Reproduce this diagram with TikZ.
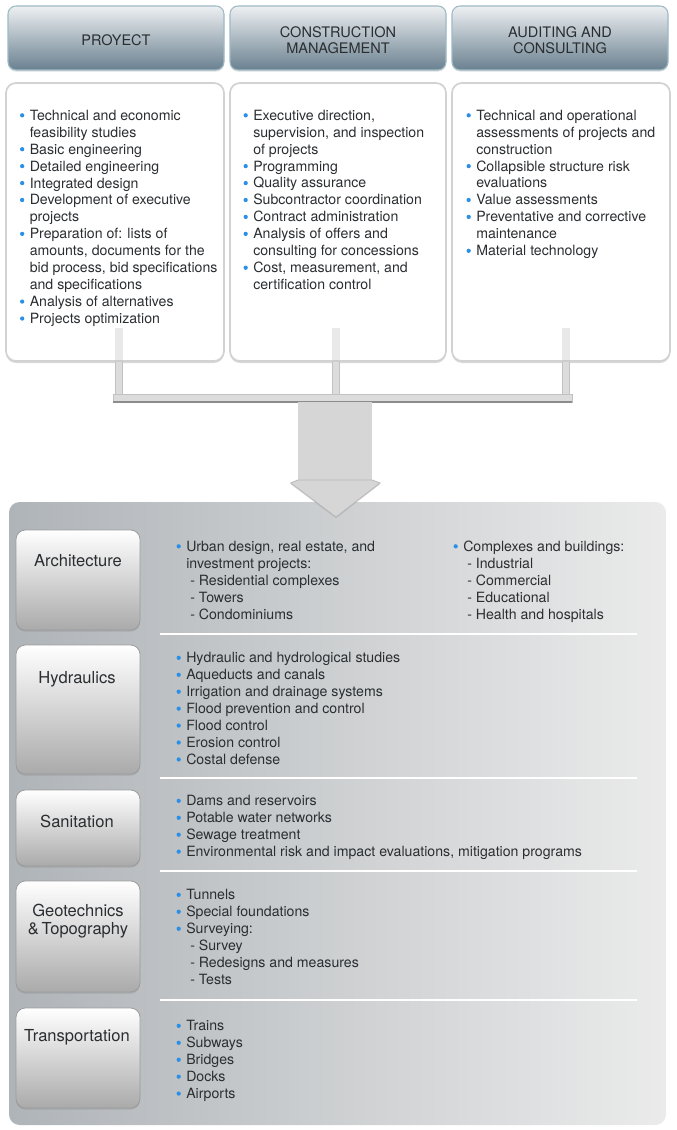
\documentclass[tikz,border=0pt]{standalone}
\usepackage{fontspec}
\setmainfont{TeX Gyre Heros}
\usetikzlibrary{fit,shadows}
\definecolor{bblue}{HTML}{2A8FE6}
\definecolor{txt}{HTML}{2B2E31}
\definecolor{hdrtop}{HTML}{EEF0F2}
\definecolor{hdrbot}{HTML}{6A8190}
\definecolor{hdrline}{HTML}{9DBAC6}
\definecolor{boxline}{HTML}{D2D2D2}
\definecolor{panelL}{HTML}{AFB4B8}
\definecolor{panelR}{HTML}{EBEBEB}
\definecolor{catbot}{HTML}{AAAAAA}
\definecolor{catline}{HTML}{9C9C9C}
\definecolor{connout}{HTML}{C2C2C2}
\definecolor{connin}{HTML}{DCDCDC}
\definecolor{arrowfill}{HTML}{D6D6D6}
\newcommand\itemfont{\fontsize{10.6pt}{12.7pt}\selectfont}
\newcommand\fs{\rule{0pt}{10pt}}
\newcommand\bu{\makebox[0pt][r]{\tikz[baseline=0pt]\fill[bblue] (0,3.7pt) circle (1.6pt);\hspace{4.1pt}}}
\newcommand\sub{\hspace{3pt}- }
\begin{document}
\begin{tikzpicture}[x=0.75pt,y=-0.75pt,
  hdr/.style={rounded corners=6pt, draw=hdrline, line width=0.8pt, top color=hdrtop, bottom color=hdrbot, inner sep=0pt,
    drop shadow={shadow xshift=0pt, shadow yshift=-1.2pt, opacity=0.25}},
  hdrtxt/.style={align=center, inner sep=0pt, text=txt, yshift=-1.5pt, font=\fontsize{10.9pt}{12pt}\selectfont},
  cbox/.style={rounded corners=7.5pt, draw=boxline, line width=1.3pt, fill=white, inner sep=0pt,
    drop shadow={shadow xshift=0pt, shadow yshift=-1.5pt, opacity=0.3}},
  item/.style={anchor=north west, yshift=10pt, align=left, inner sep=0pt, font=\itemfont, text=txt},
  panel/.style={rounded corners=8pt, left color=panelL, right color=panelR, inner sep=0pt},
  cat/.style={rounded corners=7pt, draw=catline, line width=0.6pt, top color=white, bottom color=catbot, inner sep=0pt,
    drop shadow={shadow xshift=0pt, shadow yshift=-1.2pt, opacity=0.3}},
  cattxt/.style={align=center, inner sep=0pt, text=txt, font=\fontsize{12.4pt}{13.5pt}\selectfont},
  sepline/.style={draw=white, line width=0.8pt},
  connA/.style={draw=connout, line width=6pt},
  connB/.style={draw=connin, line width=4.4pt}
]
\useasboundingbox (0,0) rectangle (677,1130);
\fill[white] (0,0) rectangle (677,1130);

% headers
\node[hdr, fit={(8,6) (224,70)}] (hA) {};
\node[hdr, fit={(230,6) (446,70)}] (hB) {};
\node[hdr, fit={(452,6) (668,70)}] (hC) {};
\node[hdrtxt] (tA) at (hA) {PROYECT};
\node[hdrtxt] (tB) at (hB) {CONSTRUCTION\\MANAGEMENT};
\node[hdrtxt] (tC) at (hC) {AUDITING AND\\CONSULTING};

% connector coordinates
\coordinate (jA) at (119,394);
\coordinate (jB) at (336,394);
\coordinate (jC) at (566,394);
\coordinate (uA) at (119,328);
\coordinate (uB) at (336,328);
\coordinate (uC) at (566,328);
\coordinate (hL) at (113,394);
\coordinate (hR) at (572,402);

% content boxes
\node[cbox, fit={(6,83) (224,361)}] (bA) {};
\node[cbox, fit={(230,83) (446,361)}] (bB) {};
\node[cbox, fit={(452,83) (670,361)}] (bC) {};

% faint connector parts inside boxes
\begin{scope}[opacity=0.35]
\draw[connA] (uA) -- (uA |- bA.south);
\draw[connA] (uB) -- (uB |- bB.south);
\draw[connA] (uC) -- (uC |- bC.south);
\end{scope}
% connectors below boxes
\draw[connA] (uA |- bA.south) -- (jA);
\draw[connA] (uB |- bB.south) -- (jB);
\draw[connA] (uC |- bC.south) -- (jC);
\draw[connB] (uA |- bA.south) -- (jA);
\draw[connB] (uB |- bB.south) -- (jB);
\draw[connB] (uC |- bC.south) -- (jC);
\fill[connin, draw=connout, line width=0.5pt] (hL) rectangle (hR);
\draw[draw=black!45, line width=0.9pt] (hL |- hR) -- (hR);

\node[item] (iA) at (29.5,120) {\fs\bu Technical and economic\\
feasibility studies\\
\bu Basic engineering\\
\bu Detailed engineering\\
\bu Integrated design\\
\bu Development of executive\\
projects\\
\bu Preparation of: lists of\\
amounts, documents for the\\
bid process, bid specifications\\
and specifications\\
\bu Analysis of alternatives\\
\bu Projects optimization};

\node[item] (iB) at (253,120) {\fs\bu Executive direction,\\
supervision, and inspection\\
of projects\\
\bu Programming\\
\bu Quality assurance\\
\bu Subcontractor coordination\\
\bu Contract administration\\
\bu Analysis of offers and\\
consulting for concessions\\
\bu Cost, measurement, and\\
certification control};

\node[item] (iC) at (476,120) {\fs\bu Technical and operational\\
assessments of projects and\\
construction\\
\bu Collapsible structure risk\\
evaluations\\
\bu Value assessments\\
\bu Preventative and corrective\\
maintenance\\
\bu Material technology};

% bottom panel
\node[panel, fit={(9,502) (666,1125)}] (P) {};

% arrow
\coordinate (aT) at (336,402);
\coordinate (aTip) at (336,517);
\fill[arrowfill] ([xshift=-28.5pt]aT) rectangle ([xshift=27pt]aT |- 0,484);
\fill[arrowfill, draw=black!28, line width=0.6pt,
  drop shadow={shadow xshift=0pt, shadow yshift=-1pt, opacity=0.25}]
  ([xshift=-34pt]aT |- 0,483) -- ([xshift=-28.5pt]aT |- 0,480) -- ([xshift=27pt]aT |- 0,480)
  -- ([xshift=33pt]aT |- 0,483) -- (aTip) -- cycle;

% separators
\draw[sepline] (160,634) -- (637,634);
\draw[sepline] (160,778) -- (637,778);
\draw[sepline] (160,871) -- (637,871);
\draw[sepline] (160,1000) -- (637,1000);

% categories
\node[cat, fit={(16,530) (140,630)}] (cA) {};
\node[cat, fit={(16,645) (140,774)}] (cH) {};
\node[cat, fit={(16,790) (140,866)}] (cS) {};
\node[cat, fit={(16,881) (140,992)}] (cG) {};
\node[cat, fit={(16,1008) (140,1108)}] (cT) {};
\node[cattxt] (lA) at (78,561) {Architecture};
\node[cattxt] (lH) at (77,679) {Hydraulics};
\node[cattxt] (lS) at (77,821) {Sanitation};
\node[cattxt] (lG) at (78,921) {Geotechnics\\\&\,Topography};
\node[cattxt] (lT) at (77,1037) {Transportation};

% category items
\node[item] (dA1) at (186,551) {\fs\bu Urban design, real estate, and\\
investment projects:\\
\sub Residential complexes\\
\sub Towers\\
\sub Condominiums};
\node[item] (dA2) at (463,551) {\fs\bu Complexes and buildings:\\
\sub Industrial\\
\sub Commercial\\
\sub Educational\\
\sub Health and hospitals};
\node[item] (dH) at (186,662.5) {\fs\bu Hydraulic and hydrological studies\\
\bu Aqueducts and canals\\
\bu Irrigation and drainage systems\\
\bu Flood prevention and control\\
\bu Flood control\\
\bu Erosion control\\
\bu Costal defense};
\node[item] (dS) at (186,805.5) {\fs\bu Dams and reservoirs\\
\bu Potable water networks\\
\bu Sewage treatment\\
\bu Environmental risk and impact evaluations, mitigation programs};
\node[item] (dG) at (186,899.5) {\fs\bu Tunnels\\
\bu Special foundations\\
\bu Surveying:\\
\sub Survey\\
\sub Redesigns and measures\\
\sub Tests};
\node[item] (dT) at (186,1030.5) {\fs\bu Trains\\
\bu Subways\\
\bu Bridges\\
\bu Docks\\
\bu Airports};
\end{tikzpicture}
\end{document}
